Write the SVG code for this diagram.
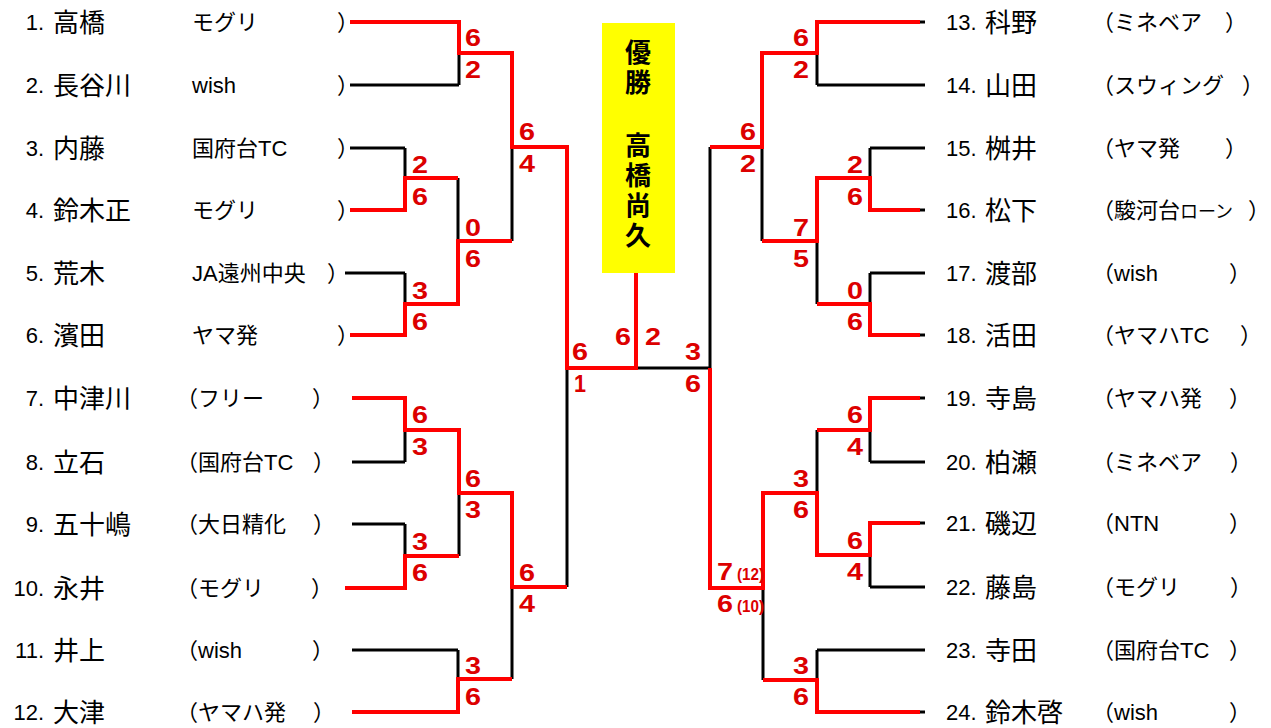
<svg xmlns="http://www.w3.org/2000/svg" width="1271" height="728" viewBox="0 0 1271 728">
<style>
.num{font-family:"Liberation Sans","Noto Sans CJK JP",sans-serif;font-size:22px;fill:#000}
.nm{font-family:"Noto Sans CJK JP","Liberation Sans",sans-serif;font-size:26px;fill:#000}
.tm{font-family:"Liberation Sans","Noto Sans CJK JP",sans-serif;font-size:22px;fill:#000}
.sc{font-family:"Liberation Sans",sans-serif;font-size:24px;font-weight:bold;fill:#dc0000;text-anchor:middle}
.scs{font-family:"Liberation Sans",sans-serif;font-size:16px;font-weight:bold;fill:#dc0000}
.bk{stroke:#000;stroke-width:3;fill:none}
.rd{stroke:#ff0000;stroke-width:4;fill:none}
.win{font-family:"Noto Sans CJK JP",sans-serif;font-size:26px;font-weight:bold;fill:#000;writing-mode:vertical-rl;letter-spacing:4px}
</style>
<rect width="1271" height="728" fill="#fff"/>

<g id="connectors">
<path class="bk" d="M350,22H459M350,85H459M459,22V85M350,148H405M350,210H405M405,148V210M345,273H405M350,335H405M405,273V335M405,178H458M405,304H458M458,178V304M459,53H512M458,241H512M512,53V241M512,147H567M352,398H405M352,462H405M405,398V462M352,524H405M345,588H405M405,524V588M405,430H459M405,556H459M459,430V556M352,650H458M352,712H458M458,650V712M459,493H512M458,679H512M512,493V679M512,587H567M567,147V587M567,368H636M636,273V368M636,368H710"/>
<path class="bk" d="M710,147V588M710,147H762M710,588H763M762,53V241M762,53H817M762,241H817M817,22V85M817,22H925M817,85H925M817,178V304M817,178H870M817,304H870M870,148V210M870,148H925M870,210H925M870,273V335M870,273H925M870,335H925M763,493V680M763,493H817M763,680H817M817,430V555M817,430H870M817,555H870M870,398V462M870,398H925M870,462H925M870,523V587M870,523H925M870,587H925M817,650V712M817,650H925M817,712H925"/>
<path class="rd" d="M350,22H459V53H512V147H567V368H636V273"/>
<path class="rd" d="M350,210H405V178H458"/>
<path class="rd" d="M350,335H405V304H458V241H512"/>
<path class="rd" d="M352,398H405V430H459V493H512V587H567"/>
<path class="rd" d="M345,588H405V556H459"/>
<path class="rd" d="M352,712H458V679H512"/>
<path class="rd" d="M920,22H817V53H762V147H710"/>
<path class="rd" d="M920,210H870V178H817V241H762"/>
<path class="rd" d="M920,335H870V304H817"/>
<path class="rd" d="M920,398H870V430H817"/>
<path class="rd" d="M920,523H870V555H817V493H763V588H710V368"/>
<path class="rd" d="M920,712H817V680H763"/>
</g>

<g id="champion">
<rect x="602" y="23" width="73" height="250" fill="#ffff00"/>
<text class="win" x="638" y="39">優勝</text>
<text class="win" x="638" y="132">高橋尚久</text>
</g>

<g id="scores">
<text class="sc" x="473" y="46" textLength="16" lengthAdjust="spacingAndGlyphs">6</text><text class="sc" x="473" y="78" textLength="16" lengthAdjust="spacingAndGlyphs">2</text>
<text class="sc" x="420" y="173" textLength="16" lengthAdjust="spacingAndGlyphs">2</text><text class="sc" x="420" y="205" textLength="16" lengthAdjust="spacingAndGlyphs">6</text>
<text class="sc" x="473" y="236" textLength="16" lengthAdjust="spacingAndGlyphs">0</text><text class="sc" x="473" y="267" textLength="16" lengthAdjust="spacingAndGlyphs">6</text>
<text class="sc" x="527" y="140" textLength="16" lengthAdjust="spacingAndGlyphs">6</text><text class="sc" x="527" y="172" textLength="16" lengthAdjust="spacingAndGlyphs">4</text>
<text class="sc" x="420" y="299" textLength="16" lengthAdjust="spacingAndGlyphs">3</text><text class="sc" x="420" y="330" textLength="16" lengthAdjust="spacingAndGlyphs">6</text>
<text class="sc" x="580" y="360" textLength="16" lengthAdjust="spacingAndGlyphs">6</text><text class="sc" x="580" y="392" textLength="12" lengthAdjust="spacingAndGlyphs">1</text>
<text class="sc" x="420" y="423" textLength="16" lengthAdjust="spacingAndGlyphs">6</text><text class="sc" x="420" y="455" textLength="16" lengthAdjust="spacingAndGlyphs">3</text>
<text class="sc" x="473" y="487" textLength="16" lengthAdjust="spacingAndGlyphs">6</text><text class="sc" x="473" y="518" textLength="16" lengthAdjust="spacingAndGlyphs">3</text>
<text class="sc" x="420" y="550" textLength="16" lengthAdjust="spacingAndGlyphs">3</text><text class="sc" x="420" y="581" textLength="16" lengthAdjust="spacingAndGlyphs">6</text>
<text class="sc" x="527" y="581" textLength="16" lengthAdjust="spacingAndGlyphs">6</text><text class="sc" x="527" y="612" textLength="16" lengthAdjust="spacingAndGlyphs">4</text>
<text class="sc" x="473" y="674" textLength="16" lengthAdjust="spacingAndGlyphs">3</text><text class="sc" x="473" y="705" textLength="16" lengthAdjust="spacingAndGlyphs">6</text>
<text class="sc" x="623" y="345" textLength="16" lengthAdjust="spacingAndGlyphs">6</text><text class="sc" x="653" y="345" textLength="16" lengthAdjust="spacingAndGlyphs">2</text>
<text class="sc" x="801" y="46" textLength="16" lengthAdjust="spacingAndGlyphs">6</text><text class="sc" x="801" y="78" textLength="16" lengthAdjust="spacingAndGlyphs">2</text>
<text class="sc" x="748" y="140" textLength="16" lengthAdjust="spacingAndGlyphs">6</text><text class="sc" x="748" y="172" textLength="16" lengthAdjust="spacingAndGlyphs">2</text>
<text class="sc" x="855" y="173" textLength="16" lengthAdjust="spacingAndGlyphs">2</text><text class="sc" x="855" y="205" textLength="16" lengthAdjust="spacingAndGlyphs">6</text>
<text class="sc" x="801" y="236" textLength="16" lengthAdjust="spacingAndGlyphs">7</text><text class="sc" x="801" y="267" textLength="16" lengthAdjust="spacingAndGlyphs">5</text>
<text class="sc" x="855" y="299" textLength="16" lengthAdjust="spacingAndGlyphs">0</text><text class="sc" x="855" y="330" textLength="16" lengthAdjust="spacingAndGlyphs">6</text>
<text class="sc" x="693" y="360" textLength="16" lengthAdjust="spacingAndGlyphs">3</text><text class="sc" x="693" y="392" textLength="16" lengthAdjust="spacingAndGlyphs">6</text>
<text class="sc" x="855" y="423" textLength="16" lengthAdjust="spacingAndGlyphs">6</text><text class="sc" x="855" y="455" textLength="16" lengthAdjust="spacingAndGlyphs">4</text>
<text class="sc" x="801" y="487" textLength="16" lengthAdjust="spacingAndGlyphs">3</text><text class="sc" x="801" y="518" textLength="16" lengthAdjust="spacingAndGlyphs">6</text>
<text class="sc" x="855" y="549" textLength="16" lengthAdjust="spacingAndGlyphs">6</text><text class="sc" x="855" y="580" textLength="16" lengthAdjust="spacingAndGlyphs">4</text>
<text class="sc" x="725" y="580" textLength="16" lengthAdjust="spacingAndGlyphs">7</text><text class="scs" x="737" y="580" textLength="27" lengthAdjust="spacingAndGlyphs">(12)</text>
<text class="sc" x="725" y="612" textLength="16" lengthAdjust="spacingAndGlyphs">6</text><text class="scs" x="737" y="612" textLength="27" lengthAdjust="spacingAndGlyphs">(10)</text>
<text class="sc" x="801" y="674" textLength="16" lengthAdjust="spacingAndGlyphs">3</text><text class="sc" x="801" y="705" textLength="16" lengthAdjust="spacingAndGlyphs">6</text>
</g>

<g id="p1"><text class="num" x="44" y="30" text-anchor="end">1.</text><text class="nm" x="53" y="32">高橋</text><text class="tm" x="192" y="30">モグリ<tspan x="337">）</tspan></text></g>
<g id="p2"><text class="num" x="44" y="93" text-anchor="end">2.</text><text class="nm" x="53" y="95">長谷川</text><text class="tm" x="192" y="93">wish<tspan x="337">）</tspan></text></g>
<g id="p3"><text class="num" x="44" y="156" text-anchor="end">3.</text><text class="nm" x="53" y="158">内藤</text><text class="tm" x="192" y="156">国府台TC<tspan x="337">）</tspan></text></g>
<g id="p4"><text class="num" x="44" y="218" text-anchor="end">4.</text><text class="nm" x="53" y="220">鈴木正</text><text class="tm" x="192" y="218">モグリ<tspan x="337">）</tspan></text></g>
<g id="p5"><text class="num" x="44" y="281" text-anchor="end">5.</text><text class="nm" x="53" y="283">荒木</text><text class="tm" x="192" y="281">JA遠州中央<tspan x="327">）</tspan></text></g>
<g id="p6"><text class="num" x="44" y="343" text-anchor="end">6.</text><text class="nm" x="53" y="345">濱田</text><text class="tm" x="192" y="343">ヤマ発<tspan x="337">）</tspan></text></g>
<g id="p7"><text class="num" x="44" y="406" text-anchor="end">7.</text><text class="nm" x="53" y="408">中津川</text><text class="tm" x="176" y="406">（フリー<tspan x="312">）</tspan></text></g>
<g id="p8"><text class="num" x="44" y="470" text-anchor="end">8.</text><text class="nm" x="53" y="472">立石</text><text class="tm" x="176" y="470">（国府台TC<tspan x="313">）</tspan></text></g>
<g id="p9"><text class="num" x="44" y="532" text-anchor="end">9.</text><text class="nm" x="53" y="534">五十嶋</text><text class="tm" x="176" y="532">（大日精化<tspan x="313">）</tspan></text></g>
<g id="p10"><text class="num" x="44" y="596" text-anchor="end">10.</text><text class="nm" x="53" y="598">永井</text><text class="tm" x="176" y="596">（モグリ<tspan x="311">）</tspan></text></g>
<g id="p11"><text class="num" x="44" y="658" text-anchor="end">11.</text><text class="nm" x="53" y="660">井上</text><text class="tm" x="176" y="658">（wish<tspan x="312">）</tspan></text></g>
<g id="p12"><text class="num" x="44" y="720" text-anchor="end">12.</text><text class="nm" x="53" y="722">大津</text><text class="tm" x="176" y="720">（ヤマハ発<tspan x="313">）</tspan></text></g>

<g id="p13"><text class="num" x="946" y="30">13.</text><text class="nm" x="985" y="32">科野</text><text class="tm" x="1092" y="30">（ミネベア<tspan x="1225">）</tspan></text></g>
<g id="p14"><text class="num" x="946" y="93">14.</text><text class="nm" x="985" y="95">山田</text><text class="tm" x="1092" y="93">（スウィング<tspan x="1242">）</tspan></text></g>
<g id="p15"><text class="num" x="946" y="156">15.</text><text class="nm" x="985" y="158">桝井</text><text class="tm" x="1092" y="156">（ヤマ発<tspan x="1225">）</tspan></text></g>
<g id="p16"><text class="num" x="946" y="218">16.</text><text class="nm" x="985" y="220">松下</text><text class="tm" x="1092" y="218">（駿河台<tspan font-size="18">ローン</tspan><tspan x="1248">）</tspan></text></g>
<g id="p17"><text class="num" x="946" y="281">17.</text><text class="nm" x="985" y="283">渡部</text><text class="tm" x="1092" y="281">（wish<tspan x="1229">）</tspan></text></g>
<g id="p18"><text class="num" x="946" y="343">18.</text><text class="nm" x="985" y="345">活田</text><text class="tm" x="1092" y="343">（ヤマハTC<tspan x="1240">）</tspan></text></g>
<g id="p19"><text class="num" x="946" y="406">19.</text><text class="nm" x="985" y="408">寺島</text><text class="tm" x="1092" y="406">（ヤマハ発<tspan x="1229">）</tspan></text></g>
<g id="p20"><text class="num" x="946" y="470">20.</text><text class="nm" x="985" y="472">柏瀬</text><text class="tm" x="1092" y="470">（ミネベア<tspan x="1230">）</tspan></text></g>
<g id="p21"><text class="num" x="946" y="531">21.</text><text class="nm" x="985" y="533">磯辺</text><text class="tm" x="1092" y="531">（NTN<tspan x="1229">）</tspan></text></g>
<g id="p22"><text class="num" x="946" y="595">22.</text><text class="nm" x="985" y="597">藤島</text><text class="tm" x="1092" y="595">（モグリ<tspan x="1230">）</tspan></text></g>
<g id="p23"><text class="num" x="946" y="658">23.</text><text class="nm" x="985" y="660">寺田</text><text class="tm" x="1092" y="658">（国府台TC<tspan x="1229">）</tspan></text></g>
<g id="p24"><text class="num" x="946" y="720">24.</text><text class="nm" x="985" y="722">鈴木啓</text><text class="tm" x="1092" y="720">（wish<tspan x="1229">）</tspan></text></g>
</svg>
